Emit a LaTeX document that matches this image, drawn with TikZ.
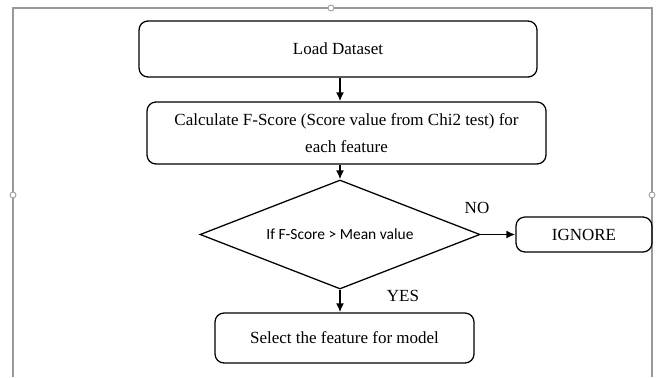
\documentclass[tikz,border=0pt]{standalone}
\usepackage{fontspec}
\setmainfont{Liberation Serif}
\newfontfamily\calibri{Carlito}
\usetikzlibrary{shapes.geometric,arrows.meta}

\begin{document}
\begin{tikzpicture}
[
  x=1pt, y=-1pt,
  every node/.style ={font=\fontsize{17}{27}\selectfont},
  stepbox/.style ={draw, line width=0.45mm, rounded corners=9pt, inner sep=0pt, align=center},
  decision/.style ={draw, diamond, aspect=2.6, line width=0.45mm, inner sep=0pt, font=\calibri\fontsize{15.5}{18}\selectfont},
  flow/.style ={-{Latex[length=9pt,width=8pt]}, line width=0.7mm},
  frame/.style ={line width=0.5mm, black!40},
  handle/.style ={draw=black!40, fill=white, line width=0.3mm},
]
\useasboundingbox (0,0) rectangle (663,377);

% page frame
\draw[frame] (13,377)--(13,8)--(652,8)--(652,377);
\filldraw[handle] (331,8) circle (3pt);
\filldraw[handle] (13,195) circle (3pt);
\filldraw[handle] (652,195) circle (3pt);

\node[stepbox, minimum width=398pt, minimum height=56pt] (load) at (338,49) {Load Dataset};
\node[stepbox, minimum width=399pt, minimum height=62pt] (calc) at (346.5,133)
  {Calculate F-Score (Score value from Chi2 test) for\\each feature};
\node[decision, minimum width=280pt, minimum height=109pt] (dec) at (340,234.5) {If F-Score > Mean value};
\node[stepbox, minimum width=136pt, minimum height=35pt] (ign) at (584,234.5) {IGNORE};
\node[stepbox, minimum width=259pt, minimum height=50pt] (sel) at (344.5,338) {Select the feature for model};

\node (nolbl) at (477,208) {NO};
\node (yeslbl) at (403,296) {YES};

\draw[flow] (dec.north |- load.south) -- (dec.north |- calc.north);
\draw[flow] (dec.north |- calc.south) -- (dec.north);
\draw[flow] (dec.east) -- (ign.west);
\draw[flow] (dec.south) -- (dec.south |- sel.north);

\end{tikzpicture}
\end{document}
